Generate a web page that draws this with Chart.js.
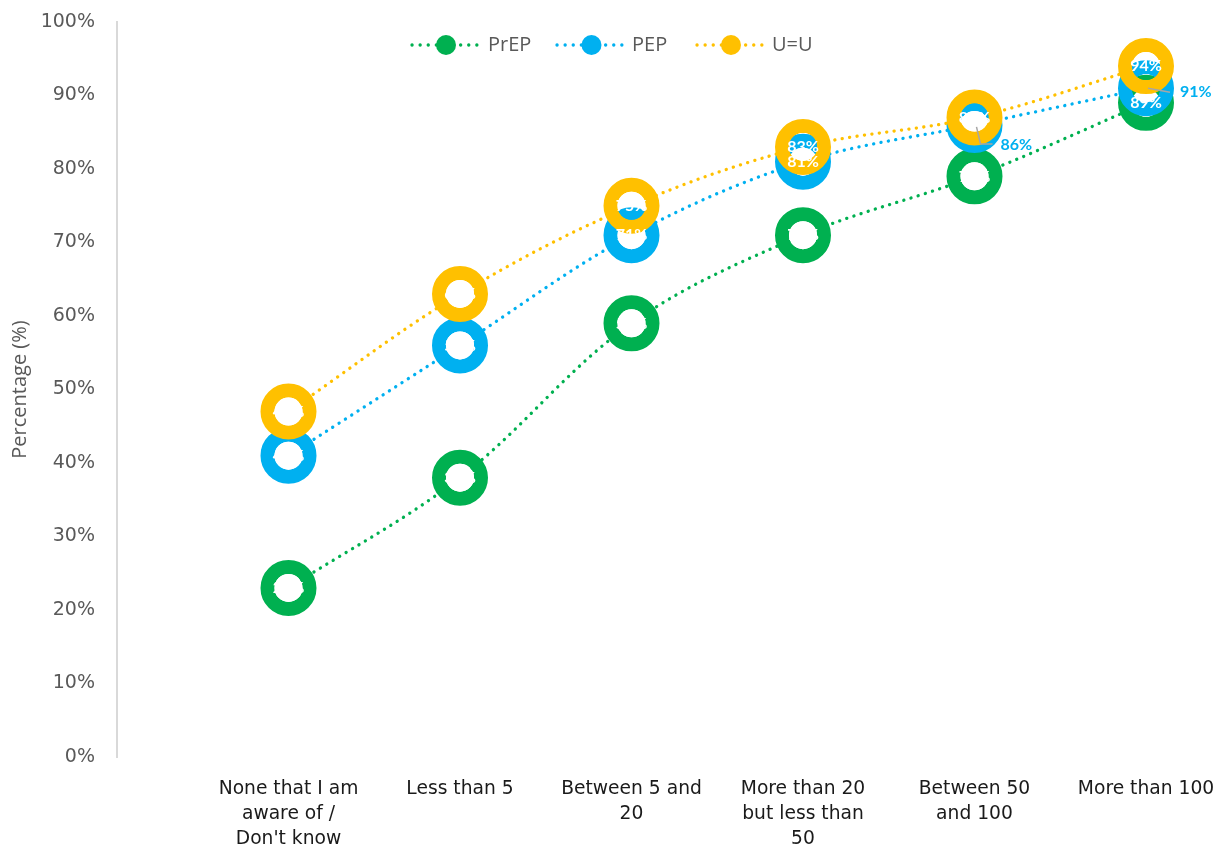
<!DOCTYPE html>
<html>
<head>
<meta charset="utf-8">
<script src="https://cdn.jsdelivr.net/npm/chart.js@4.4.1/dist/chart.umd.min.js"></script>
<style>
    html, body { margin: 0; padding: 0; background: #ffffff; overflow: hidden; }
    #wrap { position: relative; width: 1213px; height: 845px; }
</style>
</head>
<body>
<div id="wrap"><canvas id="awareness-chart"></canvas></div>
<script>
// Chart data
const categories = [
    ['None that I am', 'aware of /', "Don't know"],
    'Less than 5',
    ['Between 5 and', '20'],
    ['More than 20', 'but less than', '50'],
    ['Between 50', 'and 100'],
    'More than 100',
];
const prepValues = [23, 38, 59, 71, 79, 89];
const pepValues = [41, 56, 71, 81, 86, 91];
const uuValues = [47, 63, 75, 83, 87, 94];
const seriesNames = ['PrEP', 'PEP', 'U=U'];
const yTickValues = [0, 10, 20, 30, 40, 50, 60, 70, 80, 90, 100];

const COLORS = ['#00B050', '#00B0F0', '#FFC000'];
const GREY_TEXT = '#595959';

// ring marker geometry
const MARKER_RADIUS = 21;
const MARKER_RING = 14;
const HOLE_RADIUS = MARKER_RADIUS - MARKER_RING / 2;

// the first slot is an empty category so the series start one step right of the axis
const chartLabels = [''].concat(categories);

function makeDataset(name, values, color, order) {
    return {
        label: name,
        data: [null].concat(values),
        borderColor: color,
        borderWidth: 3.3,
        borderDash: [0.1, 7.4],
        borderCapStyle: 'round',
        tension: 0.35,
        fill: false,
        clip: false,
        order: order,
        pointRadius: MARKER_RADIUS,
        pointHoverRadius: MARKER_RADIUS,
        pointBorderWidth: MARKER_RING,
        pointHoverBorderWidth: MARKER_RING,
        pointBorderColor: color,
        pointBackgroundColor: 'rgba(255, 255, 255, 0)',
    };
}

// scales should not push the plot area in; layout.padding decides the edges
function noScalePadding(scale) {
    scale.paddingTop = 0;
    scale.paddingBottom = 0;
    scale.paddingLeft = 0;
    scale.paddingRight = 0;
}

// Keep a series' own dotted line out of the holes of its ring markers
const ringHolePlugin = {
    id: 'ringHoles',
    beforeDatasetDraw(chart, args) {
        const ctx = chart.ctx;
        ctx.save();
        ctx.beginPath();
        ctx.rect(0, 0, chart.width, chart.height);
        args.meta.data.forEach((pt, i) => {
            if (chart.data.datasets[args.index].data[i] === null) return;
            ctx.moveTo(pt.x + HOLE_RADIUS, pt.y);
            ctx.arc(pt.x, pt.y, HOLE_RADIUS, 0, Math.PI * 2);
        });
        ctx.clip('evenodd');
    },
    afterDatasetDraw(chart) {
        chart.ctx.restore();
    }
};

// Labels that sit outside their marker, with a leader line (dataset:index)
const calloutLabels = {
    '1:5': { path: [[2, 2], [6, 19], [18, 19]], tx: 26, ty: 20 },
    '1:6': { path: [[2, 0], [24, 4]], tx: 34, ty: 4 },
};

const valueLabelPlugin = {
    id: 'valueLabels',
    afterDatasetsDraw(chart) {
        const ctx = chart.ctx;
        ctx.save();
        ctx.font = "bold 16px 'Lato', sans-serif";
        ctx.textBaseline = 'middle';
        chart.data.datasets.forEach((ds, di) => {
            const meta = chart.getDatasetMeta(di);
            meta.data.forEach((pt, i) => {
                const v = ds.data[i];
                if (v === null || v === undefined) return;
                const text = v + '%';
                const callout = calloutLabels[di + ':' + i];
                if (callout) {
                    ctx.strokeStyle = '#A6A6A6';
                    ctx.lineWidth = 1.5;
                    ctx.setLineDash([]);
                    ctx.beginPath();
                    callout.path.forEach((p, k) => {
                        if (k === 0) ctx.moveTo(pt.x + p[0], pt.y + p[1]);
                        else ctx.lineTo(pt.x + p[0], pt.y + p[1]);
                    });
                    ctx.stroke();
                    ctx.fillStyle = COLORS[di];
                    ctx.textAlign = 'left';
                    ctx.fillText(text, pt.x + callout.tx, pt.y + callout.ty);
                } else {
                    ctx.fillStyle = '#ffffff';
                    ctx.textAlign = 'center';
                    ctx.fillText(text, pt.x, pt.y);
                }
            });
        });
        ctx.restore();
    }
};

// Legend drawn inside the plot area: dotted line with a big dot, then the name
const legendSlots = [
    { x1: 412, x2: 480, text: 488 },
    { x1: 557, x2: 626, text: 632 },
    { x1: 697, x2: 765, text: 772 },
];

const insideLegendPlugin = {
    id: 'insideLegend',
    afterDraw(chart) {
        const ctx = chart.ctx;
        const y = 45;
        ctx.save();
        seriesNames.forEach((name, i) => {
            const slot = legendSlots[i];
            ctx.strokeStyle = COLORS[i];
            ctx.lineWidth = 3.3;
            ctx.lineCap = 'round';
            ctx.setLineDash([0.1, 8]);
            ctx.beginPath();
            ctx.moveTo(slot.x1, y);
            ctx.lineTo(slot.x2, y);
            ctx.stroke();
            ctx.setLineDash([]);
            ctx.fillStyle = COLORS[i];
            ctx.beginPath();
            ctx.arc((slot.x1 + slot.x2) / 2, y, 10, 0, Math.PI * 2);
            ctx.fill();
            ctx.fillStyle = GREY_TEXT;
            ctx.font = "20px 'Open Sans', sans-serif";
            ctx.textAlign = 'left';
            ctx.textBaseline = 'middle';
            ctx.fillText(name, slot.text, y);
        });
        ctx.restore();
    }
};

const ctx = document.getElementById('awareness-chart');
new Chart(ctx, {
    type: 'line',
    data: {
        labels: chartLabels,
        datasets: [
            makeDataset(seriesNames[0], prepValues, COLORS[0], 2),
            makeDataset(seriesNames[1], pepValues, COLORS[1], 1),
            makeDataset(seriesNames[2], uuValues, COLORS[2], 0),
        ],
    },
    options: {
        responsive: true,
        maintainAspectRatio: false,
        animation: false,
        events: [],
        layout: {
            autoPadding: false,
            padding: { top: 22, right: 67, bottom: 0, left: 0 },
        },
        plugins: {
            legend: { display: false },
            tooltip: { enabled: false },
        },
        scales: {
            x: {
                offset: false,
                grid: { display: false },
                border: { display: false },
                ticks: {
                    autoSkip: false,
                    maxRotation: 0,
                    minRotation: 0,
                    color: '#1a1a1a',
                    padding: 11,
                    font: { family: "'DejaVu Sans', sans-serif", size: 18.7, lineHeight: 1.36 },
                },
                afterFit(scale) {
                    scale.height = 88;
                    noScalePadding(scale);
                },
            },
            y: {
                min: 0,
                max: 100,
                afterBuildTicks(scale) {
                    scale.ticks = yTickValues.map(v => ({ value: v }));
                },
                grid: { display: false, drawTicks: false },
                border: { display: true, color: '#D9D9D9', width: 2 },
                ticks: {
                    color: GREY_TEXT,
                    padding: 22,
                    font: { family: "'DejaVu Sans', sans-serif", size: 19 },
                    callback: v => v + '%',
                },
                title: {
                    display: true,
                    text: 'Percentage (%)',
                    color: GREY_TEXT,
                    font: { family: "'Open Sans', sans-serif", size: 20 },
                    padding: { top: 8, bottom: 0 },
                },
                afterFit(scale) {
                    scale.width = 117;
                    noScalePadding(scale);
                },
            },
        },
    },
    plugins: [ringHolePlugin, valueLabelPlugin, insideLegendPlugin],
});
</script>
</body>
</html>
